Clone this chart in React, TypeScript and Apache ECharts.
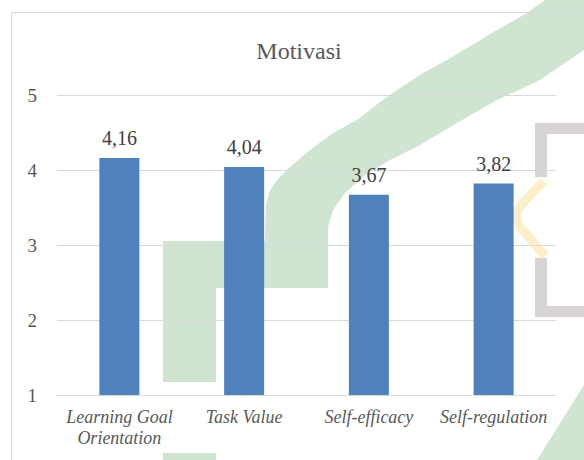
import React, { useEffect, useRef } from "react";
import * as echarts from "echarts";

const categories = ["Learning Goal\nOrientation", "Task Value", "Self-efficacy", "Self-regulation"];
const values = [4.16, 4.04, 3.67, 3.82];
const yTicks = [1, 2, 3, 4, 5];
const titleText = "Motivasi";

const GREEN = "#cfe4d1";
const GREY = "#d6d3d2";
const YELLOW = "#fdefc8";

export default function App() {
  const ref = useRef<HTMLDivElement>(null);
  useEffect(() => {
    if (!ref.current) return;
    const chart = echarts.init(ref.current, undefined, { renderer: "svg" });
    const font = "Liberation Serif";
    chart.setOption({
      animation: false,
      backgroundColor: "#ffffff",
      textStyle: { fontFamily: font },
      title: {
        text: titleText,
        left: 294,
        top: 34,
        textAlign: "center",
        textStyle: { fontFamily: font, fontSize: 24, fontWeight: "normal", color: "#595959" },
      },
      grid: { left: 57, right: 28, top: 95, bottom: 65 },
      xAxis: {
        type: "category",
        data: categories,
        axisLine: { show: true, lineStyle: { color: "#d9d9d9", width: 1 } },
        axisTick: { show: false },
        axisLabel: {
          fontFamily: font,
          fontSize: 18,
          fontStyle: "italic",
          color: "#595959",
          margin: 11,
          lineHeight: 21,
          interval: 0,
        },
      },
      yAxis: {
        type: "value",
        min: yTicks[0],
        max: yTicks[yTicks.length - 1],
        interval: 1,
        axisLine: { show: false },
        axisTick: { show: false },
        splitLine: { lineStyle: { color: "#d9d9d9", width: 1 } },
        axisLabel: { fontFamily: font, fontSize: 19, color: "#595959", margin: 20 },
      },
      series: [
        {
          type: "bar",
          data: values,
          barWidth: 40,
          itemStyle: { color: "#4f81bd" },
          label: {
            show: true,
            position: "top",
            distance: 10,
            fontFamily: font,
            fontSize: 20,
            color: "#404040",
            formatter: (p: any) => String(p.value.toFixed(2)).replace(".", ","),
          },
          z: 3,
        },
      ],
      graphic: [
        {
          type: "polygon",
          z: -10,
          silent: true,
          shape: {
            points: [
              [545, 0], [584, 0], [584, 50], [540, 80], [497, 100], [457, 123], [420, 145],
              [390, 160], [365, 175], [345, 193], [333, 210], [328, 227], [328, 288],
              [216, 288], [216, 382], [163, 382], [163, 241], [265, 241], [266, 205],
              [270, 190], [277, 180], [290, 167], [310, 150], [333, 133], [357, 120],
              [380, 102], [397, 90], [423, 73], [447, 60], [477, 42], [497, 30], [527, 13],
            ],
          },
          style: { fill: GREEN },
        },
        {
          type: "rect",
          z: -10,
          silent: true,
          shape: { x: 163, y: 453, width: 53, height: 10 },
          style: { fill: GREEN },
        },
        {
          type: "polygon",
          z: -10,
          silent: true,
          shape: { points: [[584, 385], [537, 460], [584, 460]] },
          style: { fill: GREEN },
        },
        {
          type: "polygon",
          z: -10,
          silent: true,
          shape: { points: [[535, 123], [600, 123], [600, 134], [547, 134], [547, 177], [535, 177]] },
          style: { fill: GREY },
        },
        {
          type: "polygon",
          z: -10,
          silent: true,
          shape: { points: [[535, 258], [547, 258], [547, 306], [600, 306], [600, 317], [535, 317]] },
          style: { fill: GREY },
        },
        {
          type: "polyline",
          z: -10,
          silent: true,
          shape: { points: [[544, 181], [521, 205], [515, 216], [521, 228], [545, 256]] },
          style: { stroke: YELLOW, lineWidth: 9, fill: null },
        },
        {
          type: "rect",
          z: 100,
          silent: true,
          shape: { x: 11.5, y: 12.5, width: 700, height: 600 },
          style: { fill: null, stroke: "#d9d9d9", lineWidth: 1 },
        },
      ],
    });
    return () => chart.dispose();
  }, []);
  return <div ref={ref} style={{ width: 584, height: 460, position: "absolute", left: 0, top: 0 }} />;
}
